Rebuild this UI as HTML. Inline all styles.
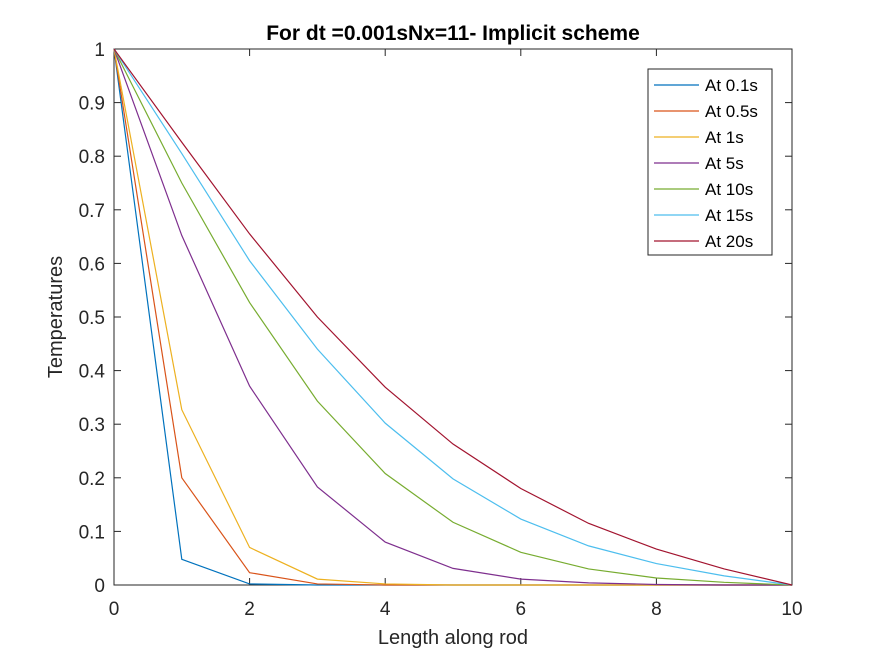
<!DOCTYPE html>
<html><head><meta charset="utf-8"><style>
body{margin:0;background:#fff;}
svg text{font-family:"Liberation Sans",Arial,sans-serif;}
</style></head><body>
<svg id="c" width="875" height="656" xmlns="http://www.w3.org/2000/svg">
<rect width="875" height="656" fill="#fff"/>
</svg>
<script>
const xs=[0,1,2,3,4,5,6,7,8,9,10];
const s01=[1,0.048,0.002,0,0,0,0,0,0,0,0];
const s05=[1,0.2,0.023,0.002,0,0,0,0,0,0,0];
const s1=[1,0.327,0.07,0.011,0.002,0,0,0,0,0,0];
const s5=[1,0.652,0.371,0.183,0.08,0.031,0.011,0.004,0.001,0,0];
const s10=[1,0.75,0.527,0.343,0.208,0.117,0.061,0.03,0.013,0.005,0];
const s15=[1,0.805,0.605,0.44,0.302,0.198,0.123,0.073,0.04,0.017,0];
const s20=[1,0.826,0.655,0.5,0.369,0.263,0.18,0.115,0.067,0.03,0];
const labels=["At 0.1s","At 0.5s","At 1s","At 5s","At 10s","At 15s","At 20s"];
const xTicks=[0,2,4,6,8,10];
const yTicks=[0,0.1,0.2,0.3,0.4,0.5,0.6,0.7,0.8,0.9,1];
const series=[s01,s05,s1,s5,s10,s15,s20];
const colors=["#0072BD","#D95319","#EDB120","#7E2F8E","#77AC30","#4DBEEE","#A2142F"];
const L=114,R=792,T=49,B=585;
const X=v=>L+(v-0)/10*(R-L), Y=v=>B-v*(B-T);
const svg=document.getElementById('c');
function el(t,a,p){const e=document.createElementNS('http://www.w3.org/2000/svg',t);for(const k in a)e.setAttribute(k,a[k]);(p||svg).appendChild(e);return e;}
const ax=el('g',{});


el('rect',{x:L,y:T,width:R-L,height:B-T,fill:'#fff',stroke:'#262626','stroke-width':1},ax);
xTicks.forEach(v=>{const x=X(v);
el('line',{x1:x,y1:B,x2:x,y2:B-7,stroke:'#262626'},ax);
el('line',{x1:x,y1:T,x2:x,y2:T+7,stroke:'#262626'},ax);
const t=el('text',{x:x,y:B+30,'text-anchor':'middle','font-size':19,fill:'#262626'},ax);t.textContent=v;
});
yTicks.forEach(v=>{const y=Y(v);
el('line',{x1:L,y1:y,x2:L+7,y2:y,stroke:'#262626'},ax);
el('line',{x1:R,y1:y,x2:R-7,y2:y,stroke:'#262626'},ax);
const t=el('text',{x:L-9,y:y+7,'text-anchor':'end','font-size':19,fill:'#262626'},ax);t.textContent=String(v);
});
series.forEach((s,i)=>{const p=el('polyline',{points:s.map((v,j)=>X(xs[j])+','+Y(v)).join(' '),fill:'none',stroke:colors[i],'stroke-width':1.2});
});
const tt=el('text',{x:453,y:40,'text-anchor':'middle','font-size':21,'font-weight':'bold',fill:'#000'});tt.textContent="For dt =0.001sNx=11- Implicit scheme";

const xl=el('text',{x:453,y:644,'text-anchor':'middle','font-size':20,fill:'#262626'});xl.textContent="Length along rod";

const yl=el('text',{x:0,y:0,'text-anchor':'middle','font-size':20,fill:'#262626',transform:'translate(62,317) rotate(-90)'});yl.textContent="Temperatures";

const lg=el('g',{});

el('rect',{x:648,y:69,width:124,height:186,fill:'#fff',stroke:'#262626'},lg);
labels.forEach((lab,i)=>{const y=85+i*26;
el('line',{x1:654,y1:y,x2:699,y2:y,stroke:colors[i],'stroke-width':1.2},lg);
const t=el('text',{x:705,y:y+6,'font-size':17,fill:'#000'},lg);t.textContent=lab;
});
</script>
</body></html>
